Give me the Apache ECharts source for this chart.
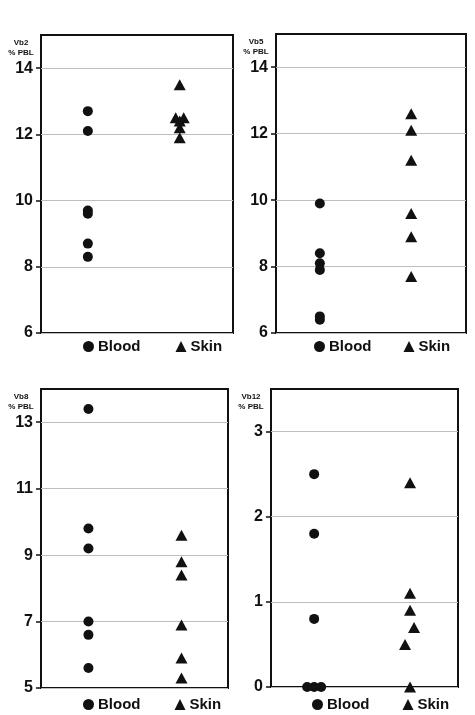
<!DOCTYPE html>
<html>
<head>
<meta charset="utf-8">
<script src="https://cdn.jsdelivr.net/npm/echarts@6/dist/echarts.min.js"></script>
<style>
  html, body { margin: 0; padding: 0; background: #fff; }
  #chart { width: 475px; height: 715px; }
</style>
</head>
<body>
<div id="chart"></div>
<script>
// Group positions on each panel's x scale
const groupX = { Blood: 1, Skin: 2 };

// Vb2 % PBL
const vb2Blood = [12.7, 12.1, 9.7, 9.6, 8.7, 8.3];
const vb2Skin  = [13.5, 12.5, 12.5, 12.4, 12.2, 11.9];
const vb2Ticks = [6, 8, 10, 12, 14];

// Vb5 % PBL
const vb5Blood = [9.9, 8.4, 8.1, 7.9, 6.5, 6.4];
const vb5Skin  = [12.6, 12.1, 11.2, 9.6, 8.9, 7.7];
const vb5Ticks = [6, 8, 10, 12, 14];

// Vb8 % PBL
const vb8Blood = [13.4, 9.8, 9.2, 7.0, 6.6, 5.6];
const vb8Skin  = [9.6, 8.8, 8.4, 6.9, 5.9, 5.3];
const vb8Ticks = [5, 7, 9, 11, 13];

// Vb12 % PBL
const vb12Blood = [2.5, 1.8, 0.8, 0, 0, 0];
const vb12Skin  = [2.4, 1.1, 0.9, 0.7, 0.5, 0];
const vb12Ticks = [0, 1, 2, 3];

// Sideways nudges (px) so coincident points stay visible
const vb2SkinNudge   = [0, -4, 4, 0, 0, 0];
const vb12BloodNudge = [0, 0, 0, -7, 0, 7];
const vb12SkinNudge  = [0, 0, 0, 4, -5, 0];

const FONT = '"Liberation Sans", Arial, sans-serif';
const INK = '#111';

const panels = [
  { name: 'Vb2\n% PBL',  blood: vb2Blood,  skin: vb2Skin,  ticks: vb2Ticks,  min: 6, max: 15, step: 2,
    skinNudge: vb2SkinNudge,
    grid: { left: 41, top: 35, width: 192, height: 298 }, xMin: 0.49, xMax: 2.58,
    legend: { left: 83, top: 339, itemGap: 35 } },
  { name: 'Vb5\n% PBL',  blood: vb5Blood,  skin: vb5Skin,  ticks: vb5Ticks,  min: 6, max: 15, step: 2,
    grid: { left: 276, top: 34, width: 190, height: 299 }, xMin: 0.52, xMax: 2.6,
    legend: { left: 314, top: 339, itemGap: 32 } },
  { name: 'Vb8\n% PBL',  blood: vb8Blood,  skin: vb8Skin,  ticks: vb8Ticks,  min: 5, max: 14, step: 2,
    grid: { left: 41, top: 389, width: 187, height: 299 }, xMin: 0.49, xMax: 2.5,
    legend: { left: 83, top: 697, itemGap: 34 } },
  { name: 'Vb12\n% PBL', blood: vb12Blood, skin: vb12Skin, ticks: vb12Ticks, min: 0, max: 3.5, step: 1,
    bloodNudge: vb12BloodNudge, skinNudge: vb12SkinNudge,
    grid: { left: 271, top: 389, width: 187, height: 298 }, xMin: 0.55, xMax: 2.5,
    legend: { left: 312, top: 697, itemGap: 33 } }
];

function points(values, x, nudge) {
  return values.map((v, i) => {
    const item = { value: [x, v] };
    if (nudge && nudge[i]) item.symbolOffset = [nudge[i], 0];
    return item;
  });
}

const option = {
  backgroundColor: '#fff',
  animation: false,
  grid: [], xAxis: [], yAxis: [], series: [], legend: []
};

panels.forEach((p, i) => {
  option.grid.push(Object.assign({
    show: true, borderColor: INK, borderWidth: 2, backgroundColor: '#fff'
  }, p.grid));

  option.xAxis.push({
    gridIndex: i, type: 'value', min: p.xMin, max: p.xMax,
    axisLine: { show: false }, axisTick: { show: false },
    axisLabel: { show: false }, splitLine: { show: false }
  });

  option.yAxis.push({
    gridIndex: i, type: 'value', min: p.min, max: p.max, interval: p.step,
    name: p.name, nameLocation: 'end', nameGap: -3,
    nameTextStyle: {
      fontFamily: FONT, fontSize: 8, fontWeight: 'bold', color: INK,
      align: 'center', verticalAlign: 'top', lineHeight: 10,
      padding: [0, 40, 0, 0]
    },
    axisLine: { show: false },
    axisTick: {
      show: true, inside: false, length: 5, customValues: p.ticks,
      lineStyle: { color: INK, width: 1.5 }
    },
    axisLabel: {
      customValues: p.ticks, margin: 8,
      fontFamily: FONT, fontSize: 16, fontWeight: 'bold', color: INK
    },
    splitLine: { show: true, lineStyle: { color: '#bdbdbd', width: 1 } }
  });

  option.series.push({
    name: 'Blood', type: 'scatter', xAxisIndex: i, yAxisIndex: i,
    symbol: 'circle', symbolSize: 10,
    itemStyle: { color: INK, opacity: 1 },
    data: points(p.blood, groupX.Blood, p.bloodNudge)
  });
  option.series.push({
    name: 'Skin', type: 'scatter', xAxisIndex: i, yAxisIndex: i,
    symbol: 'triangle', symbolSize: [12, 11],
    itemStyle: { color: INK, opacity: 1 },
    data: points(p.skin, groupX.Skin, p.skinNudge)
  });

  option.legend.push(Object.assign({
    orient: 'horizontal', padding: 0, itemWidth: 11, itemHeight: 11,
    selectedMode: false,
    itemStyle: { opacity: 1 },
    textStyle: { fontFamily: FONT, fontSize: 15, fontWeight: 'bold', color: INK, padding: [0, 0, 0, -1] },
    data: [ { name: 'Blood', icon: 'circle' }, { name: 'Skin', icon: 'triangle' } ]
  }, p.legend));
});

const chart = echarts.init(document.getElementById('chart'), null, { renderer: 'canvas' });
chart.setOption(option);
</script>
</body>
</html>
